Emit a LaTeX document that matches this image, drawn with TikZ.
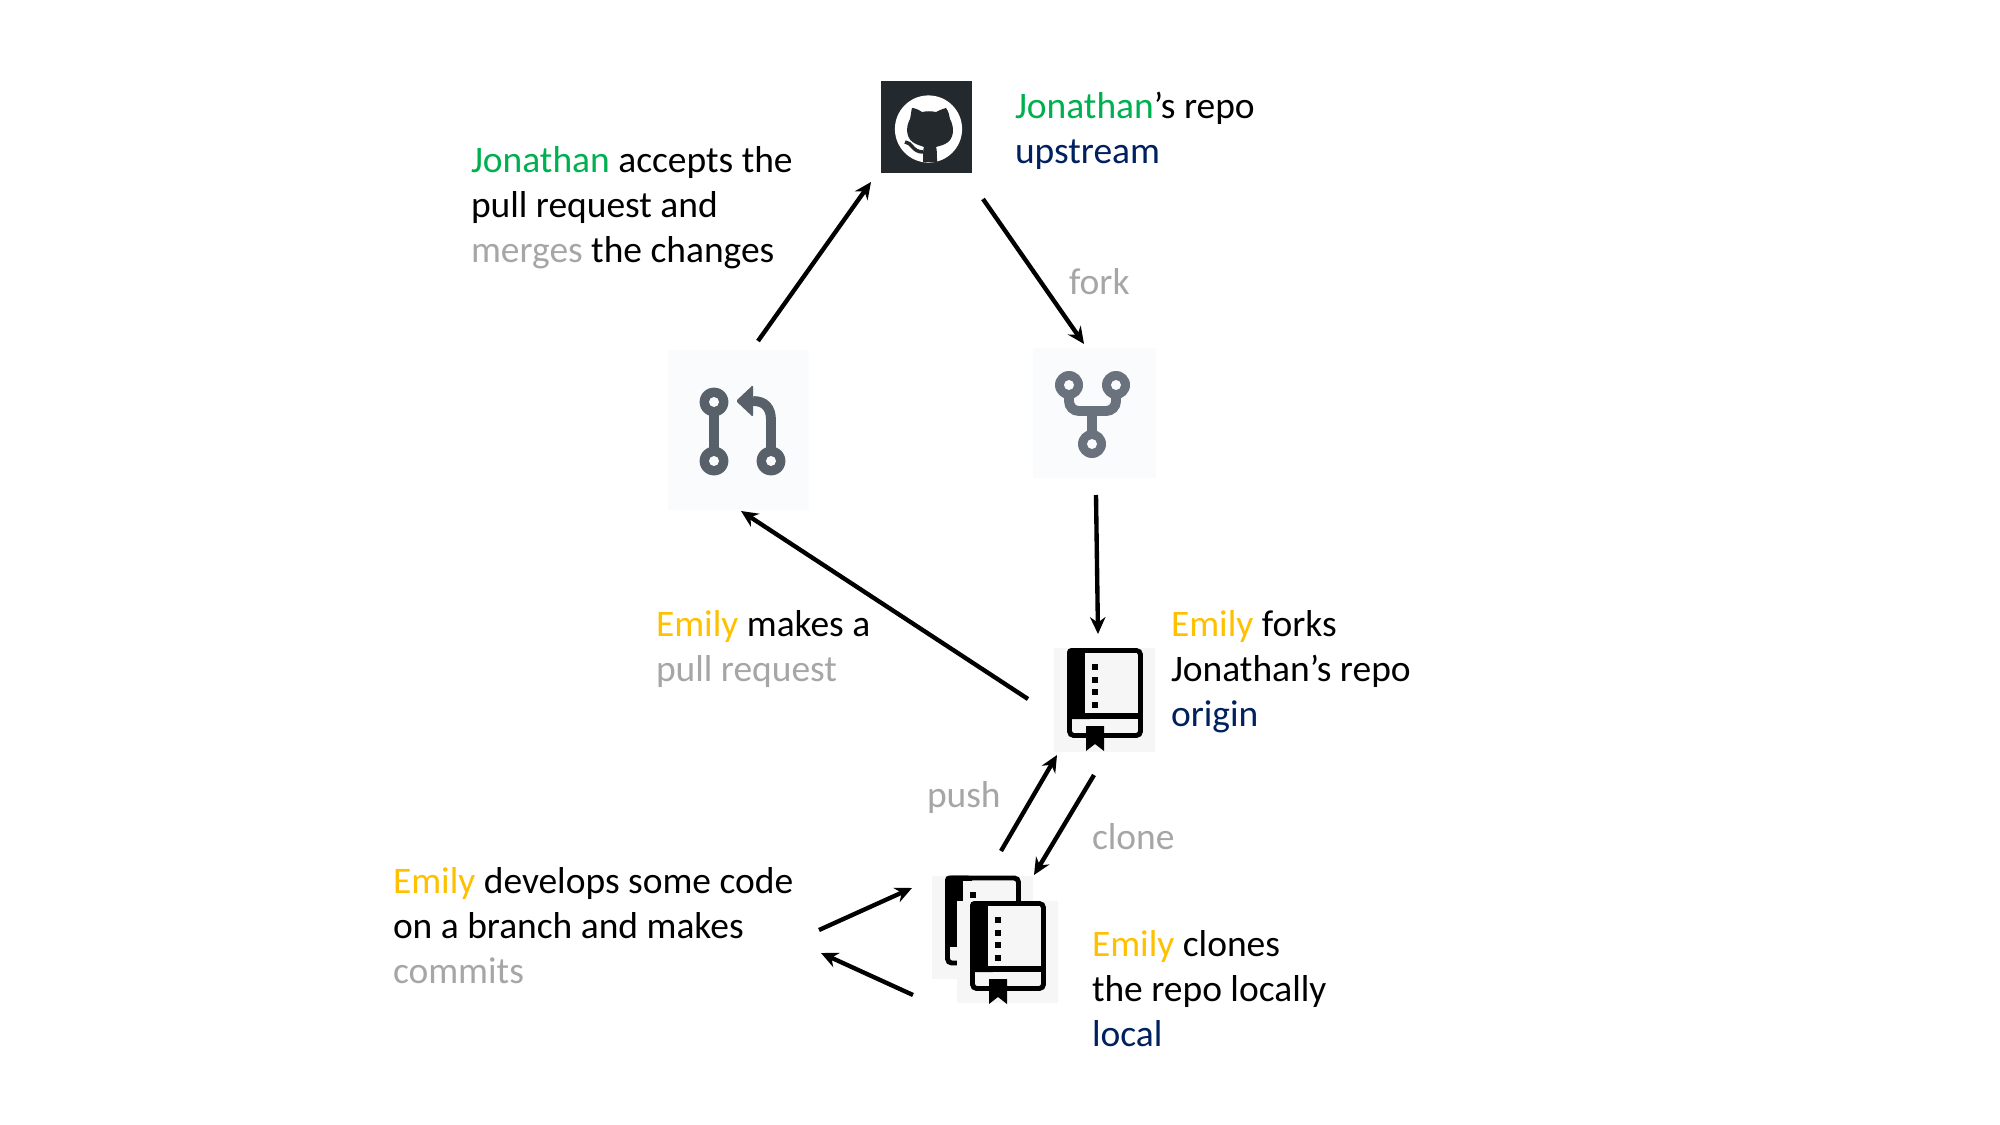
\documentclass[tikz,border=0pt]{standalone}
\usepackage{fontspec}
\setmainfont{Carlito}
\usetikzlibrary{arrows.meta}
\definecolor{jgreen}{HTML}{00B050}
\definecolor{emily}{HTML}{FFC000}
\definecolor{cmdgray}{HTML}{A6A6A6}
\definecolor{navy}{HTML}{002060}
\definecolor{ghdark}{HTML}{24292E}
\definecolor{prgray}{HTML}{586069}
\definecolor{forkgray}{HTML}{6A737D}
\definecolor{iconbg}{HTML}{FAFBFC}
\definecolor{bookbg}{HTML}{F6F6F6}
\newcommand{\fl}{\rule{0pt}{40pt}}
\newcommand{\jon}{\textcolor{jgreen}{Jonathan}}
\newcommand{\emi}{\textcolor{emily}{Emily}}
\newcommand{\cmd}[1]{\textcolor{cmdgray}{#1}}
\newcommand{\rem}[1]{\textcolor{navy}{#1}}
\tikzset{
  txt/.style={anchor=north west,inner sep=0pt,outer sep=0pt,align=left,yshift=39pt,
    font=\fontsize{53.3}{64.2}\selectfont},
  conn/.style={line width=6.2pt,black,-{Stealth[length=24pt,width=22pt]}},
  iconbox/.style={inner sep=0pt,outer sep=0pt,draw=none,fill=#1},
  bookicon/.pic={
    \draw[line width=7pt,fill=bookbg,rounded corners=6pt] (15.5,2.5) rectangle (86.5,87.5);
    \fill[black,rounded corners=6pt] (13,0) rectangle (40,71);
    \fill[bookbg] (31,5) rectangle (83,65);
    \fill[black] (13,65) rectangle (89,71);
    \fill[black] (32,78) -- (50,78) -- (50,103) -- (41,96) -- (32,103) -- cycle;
    \foreach \dy in {16,29,41,54} \fill[black] (38,\dy) rectangle (44,\dy+6);
  }
}
\begin{document}
\begin{tikzpicture}[x=0.05cm,y=-0.05cm]
\useasboundingbox (0,0) rectangle (2000,1125);
\fill[white] (0,0) rectangle (2000,1125);

% GitHub
\node[iconbox=ghdark,minimum width=4.55cm,minimum height=4.6cm] (gh) at (926.5,127) {};
\fill[white] (928.5,129) circle (1.68cm);
\fill[ghdark] (912,108) .. controls (911,112) and (911,115) .. (910,119)
  .. controls (905,128) and (906,140) .. (916,144)
  .. controls (920,146) and (923,146) .. (924,147)
  .. controls (923,149) and (923,155) .. (923,162)
  -- (937,162) .. controls (937,155) and (937,149) .. (936,147)
  .. controls (938,146) and (941,146) .. (945,144)
  .. controls (954,140) and (955,128) .. (950,119)
  .. controls (949,115) and (949,112) .. (946,108)
  .. controls (942,109) and (938,111) .. (936,112)
  .. controls (931,111) and (927,111) .. (922,112)
  .. controls (919,110) and (915,108) .. (912,108) -- cycle;
\draw[ghdark,line width=5pt] (905,142) .. controls (912,142) and (912,152) .. (923,152);

% Pull request icon
\node[iconbox=iconbg,minimum width=7.05cm,minimum height=8cm] (pr) at (738.5,430) {};
\draw[line width=14pt,prgray] (714,402) -- (714,461);
\draw[line width=14pt,prgray] (771,461) -- (771,420) .. controls (771,408) and (765,401) .. (753,401);
\fill[prgray,rounded corners=2pt] (736,401) -- (753,385) -- (753,417) -- cycle;
\foreach \cx/\cy in {714/402,714/461,771/461}{
  \fill[prgray] (\cx,\cy) circle (0.72cm);
  \fill[iconbg] (\cx,\cy) circle (0.25cm);
}

% Fork icon
\node[iconbox=iconbg,minimum width=6.15cm,minimum height=6.5cm] (fk) at (1094.5,413) {};
\draw[line width=14pt,forkgray,rounded corners=14pt] (1069,385) -- (1069,411) -- (1116,411) -- (1116,385);
\draw[line width=14pt,forkgray] (1092,411) -- (1092,444);
\foreach \cx/\cy in {1069/385,1116/385,1092/444}{
  \fill[forkgray] (\cx,\cy) circle (0.7cm);
  \fill[iconbg] (\cx,\cy) circle (0.25cm);
}

% Books
\node[iconbox=bookbg,minimum width=5.05cm,minimum height=5.2cm] (origin) at (1104.5,700) {};
\pic at (origin.north west) {bookicon};
\node[iconbox=bookbg,minimum width=5.05cm,minimum height=5.15cm] (localback) at (982.5,927) {};
\pic at (localback.north west) {bookicon};
\node[iconbox=bookbg,minimum width=5.05cm,minimum height=5.1cm] (localfront) at (1007.5,952) {};
\pic at (localfront.north west) {bookicon};

% Free connector ends
\coordinate (a1) at (758,341);  \coordinate (a2) at (871,182);
\coordinate (b1) at (983,199);  \coordinate (b2) at (1084,344);
\coordinate (c1) at (1096,495); \coordinate (c2) at (1098,634);
\coordinate (d1) at (1028,699); \coordinate (d2) at (741,511);
\coordinate (e1) at (1001,851); \coordinate (e2) at (1057,755);
\coordinate (f1) at (1094,775); \coordinate (f2) at (1034,875);
\coordinate (g1) at (819,930);  \coordinate (g2) at (912,888);
\coordinate (h1) at (913,995);  \coordinate (h2) at (821,953);
\foreach \s/\t in {a1/a2,b1/b2,c1/c2,d1/d2,e1/e2,f1/f2,g1/g2,h1/h2}
  \draw[conn] (\s) -- (\t);

% Text
\node[txt] (tj) at (1015,118) {\fl\jon’s repo\\\rem{upstream}};
\node[txt] (ta) at (471,172) {\fl\jon{} accepts the\\pull request and\\\cmd{merges} the changes};
\node[txt] (tf) at (1069,294) {\fl\cmd{fork}};
\node[txt] (tp) at (656,636) {\fl\emi{} makes a\\\cmd{pull request}};
\node[txt] (te) at (1171,636) {\fl\emi{} forks\\Jonathan’s repo\\\rem{origin}};
\node[txt] (tu) at (927,807) {\fl\cmd{push}};
\node[txt] (tc) at (1092,849) {\fl\cmd{clone}};
\node[txt] (td) at (393,893) {\fl\emi{} develops some code\\on a branch and makes\\\cmd{commits}};
\node[txt] (tl) at (1092,956) {\fl\emi{} clones\\the repo locally\\\rem{local}};
\end{tikzpicture}
\end{document}
